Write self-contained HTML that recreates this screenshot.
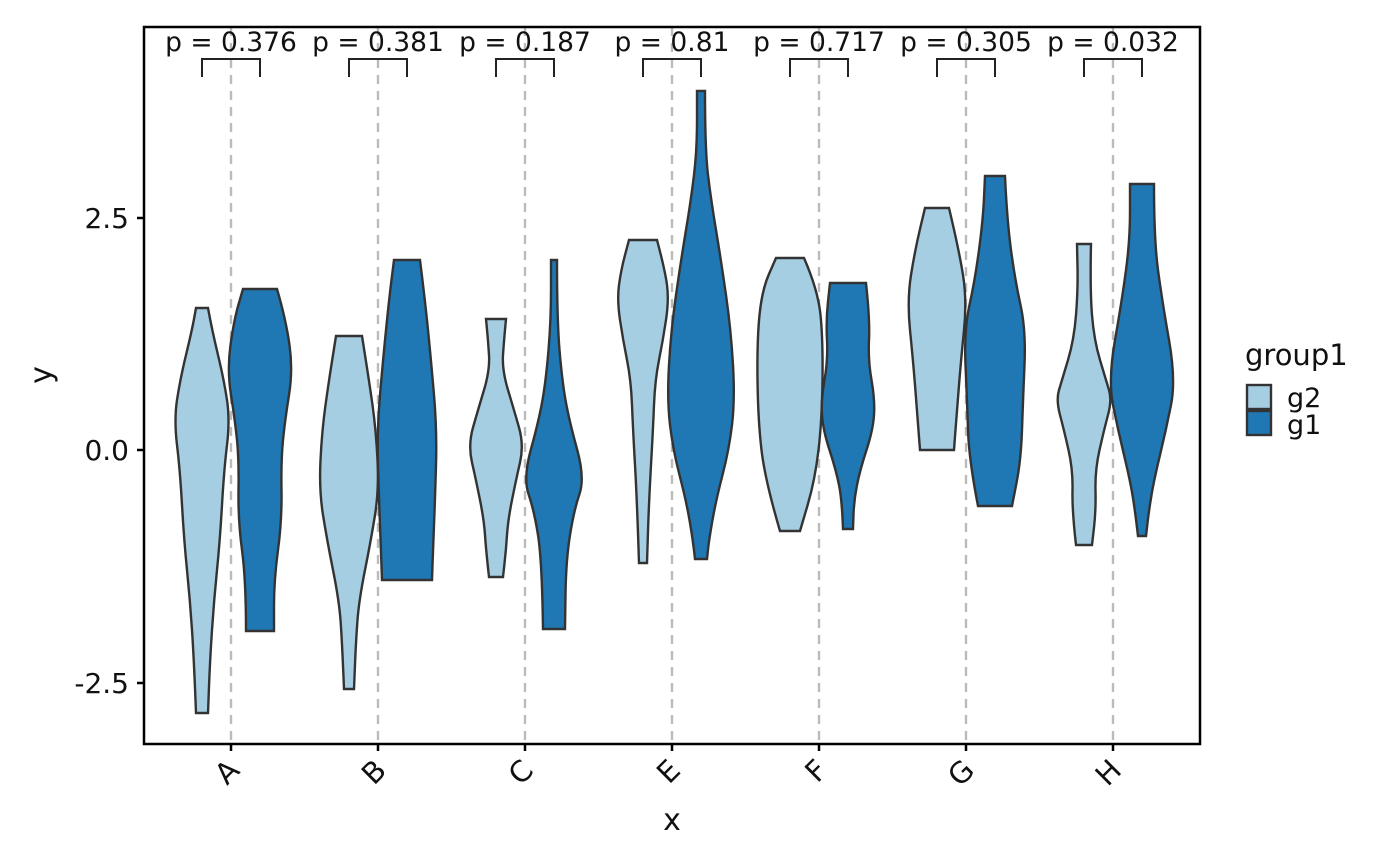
<!DOCTYPE html>
<html><head><meta charset="utf-8"><style>body{margin:0;background:#fff}svg{display:block}text{font-family:"DejaVu Sans","Liberation Sans",sans-serif}</style></head>
<body>
<svg id="s" width="1400" height="866" xmlns="http://www.w3.org/2000/svg">
<rect width="1400" height="866" fill="#fff"/>
<g id="grid" stroke="#bbb" stroke-width="2.4" stroke-dasharray="9,7"></g>
<g id="vio" stroke="#333" stroke-width="2.4"></g>
<g id="br" stroke="#222" stroke-width="2" fill="none"></g>
<g id="pt" font-size="26.5" fill="#111" text-anchor="middle"></g>
<rect x="144" y="27" width="1056" height="717" fill="none" stroke="#000" stroke-width="2.5"/>
<g font-size="28" fill="#111" text-anchor="end">
<text x="129" y="228">2.5</text><text x="129" y="460">0.0</text><text x="129" y="693">-2.5</text>
</g>
<g stroke="#000" stroke-width="2.5"><line x1="137" x2="144" y1="218" y2="218"/><line x1="137" x2="144" y1="450" y2="450"/><line x1="137" x2="144" y1="683" y2="683"/></g>
<g id="xl" font-size="29" fill="#111"></g>
<text x="672" y="830" font-size="30" text-anchor="middle" fill="#111">x</text>
<text transform="translate(51,375) rotate(-90)" font-size="30" text-anchor="middle" fill="#111">y</text>
<text x="1245" y="365" font-size="29" fill="#111">group1</text>
<rect x="1247" y="385" width="24" height="24" fill="#a6cee3" stroke="#333" stroke-width="2.4"/>
<rect x="1247" y="411" width="24" height="24" fill="#1f78b4" stroke="#333" stroke-width="2.4"/>
<text x="1287" y="407" font-size="27" fill="#111">g2</text>
<text x="1287" y="434" font-size="27" fill="#111">g1</text>
</svg>
<script>
var NS="http://www.w3.org/2000/svg";
function el(p,t,a,txt){var e=document.createElementNS(NS,t);for(var k in a)e.setAttribute(k,a[k]);if(txt)e.textContent=txt;document.getElementById(p).appendChild(e);}
var cs=[231,378,525,672,819,966,1113],labs=["A","B","C","E","F","G","H"],ps=["0.376","0.381","0.187","0.81","0.717","0.305","0.032"];
cs.forEach(function(c,i){
 el("grid","line",{x1:c,x2:c,y1:27,y2:744});
 el("br","path",{d:"M"+(c-29)+",77V59H"+(c+29)+"V77"});
 el("pt","text",{x:c,y:51},"p = "+ps[i]);
 el("xl","text",{transform:"translate("+(c+10)+",772) rotate(-45)","text-anchor":"end"},labs[i]);
 var l=document.createElementNS(NS,"line");l.setAttribute("x1",c);l.setAttribute("x2",c);l.setAttribute("y1",744);l.setAttribute("y2",751);l.setAttribute("stroke","#000");l.setAttribute("stroke-width","2.5");document.getElementById("s").appendChild(l);
});
var V=[
[202,0,[[308,6],[330,10],[380,22],[420,28],[470,22],[540,18],[600,12],[660,8],[713,6]]],
[260,1,[[289,17],[320,26],[370,33],[420,25],[460,21],[520,22],[580,14],[631,14]]],
[349,0,[[336,13],[380,20],[430,27],[490,30],[540,22],[600,10],[640,7],[689,5]]],
[407,1,[[260,13],[300,18],[360,24],[430,30],[500,28],[550,26],[580,25]]],
[496,0,[[319,10],[340,8],[370,6],[410,18],[445,28],[480,20],[520,12],[550,10],[577,7]]],
[554,1,[[260,3],[320,3],[380,8],[420,15],[478,31],[510,20],[560,12],[629,11]]],
[643,0,[[240,14],[270,22],[300,26],[340,20],[380,12],[430,10],[500,6],[563,4]]],
[701,1,[[91,4],[150,4],[200,10],[260,20],[330,30],[400,34],[450,28],[500,15],[540,8],[559,6]]],
[790,0,[[258,14],[290,28],[340,33],[420,32],[480,25],[531,10]]],
[848,1,[[283,18],[320,22],[360,20],[400,27],[430,25],[470,12],[500,6],[529,5]]],
[937,0,[[208,12],[250,22],[300,30],[360,24],[410,20],[450,17]]],
[995,1,[[176,10],[220,12],[280,20],[330,31],[400,28],[460,26],[506,17]]],
[1084,0,[[244,7],[290,6],[340,10],[380,22],[400,28],[430,20],[470,11],[510,12],[545,8]]],
[1142,1,[[184,12],[240,12],[300,20],[380,34],[430,24],[480,12],[510,7],[536,4]]]];
function side(c,pts,sg){var s="";for(var i=0;i<pts.length;i++){var x=c+sg*pts[i][1],y=pts[i][0];if(i==0)continue;if(i<pts.length-1){var mx=c+sg*(pts[i][1]+pts[i+1][1])/2,my=(pts[i][0]+pts[i+1][0])/2;s+="Q"+x+","+y+" "+mx+","+my;}else s+="L"+x+","+y;}return s;}
V.forEach(function(v){var c=v[0],p=v[2],n=p.length;
 var d="M"+(c-p[0][1])+","+p[0][0]+"L"+(c+p[0][1])+","+p[0][0]+side(c,p,1);
 d+="L"+(c-p[n-1][1])+","+p[n-1][0];
 var r=p.slice().reverse();d+=side(c,r,-1)+"Z";
 el("vio","path",{d:d,fill:v[1]?"#1f78b4":"#a6cee3"});});
</script>
</body></html>
